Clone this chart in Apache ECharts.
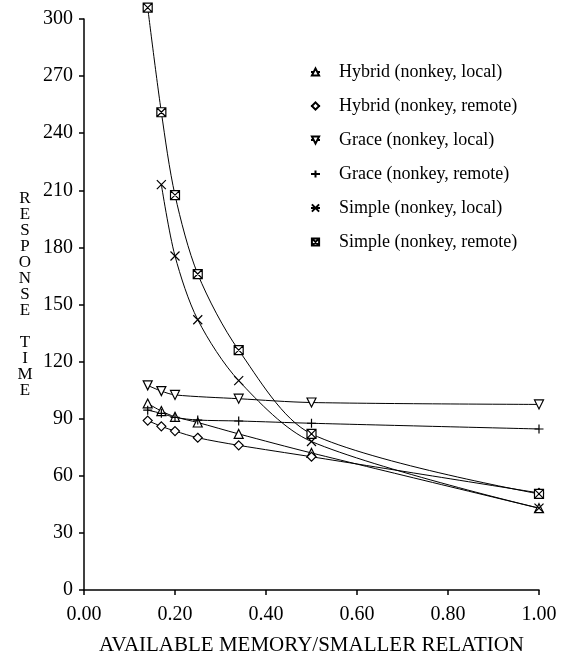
<!DOCTYPE html>
<html>
<head>
<meta charset="utf-8">
<script src="https://cdn.jsdelivr.net/npm/echarts@6/dist/echarts.min.js"></script>
<style>
html,body{margin:0;padding:0;background:#fff;}
#chart{width:569px;height:659px;}
</style>
</head>
<body>
<div id="chart"></div>
<script>
const memRatio = [0.14, 0.17, 0.2, 0.25, 0.34, 0.5, 1.0];
const hybridLocal  = [98, 94, 91, 88, 82, 72, 43];
const hybridRemote = [89, 86, 83.5, 80, 76, 70, 51];
const graceLocal   = [107.5, 104.5, 102.5, null, 100.5, 98.5, 97.5];
const graceRemote  = [94.5, 92.8, 90.7, 89.3, 88.8, 87.6, 84.6];
const simpleLocal  = [null, 213, 175.5, 142, 110, 78, 43];
const simpleRemote = [306, 251, 207.5, 166, 126, 82, 50.5];
const seriesNames = ['Hybrid (nonkey, local)','Hybrid (nonkey, remote)','Grace (nonkey, local)','Grace (nonkey, remote)','Simple (nonkey, local)','Simple (nonkey, remote)'];
const yTitle = 'RESPONSE TIME';
const xTitle = 'AVAILABLE MEMORY/SMALLER RELATION';

const FONT = '"Liberation Serif", "Times New Roman", serif';
const symbols = [
  'triangle',
  'diamond',
  'path://M0,0 L10,0 L5,9 Z',
  'path://M5,0 L5,10 M0,5 L10,5',
  'path://M0,0 L10,10 M10,0 L0,10',
  'path://M0,0 L10,0 L10,10 L0,10 Z M0,0 L10,10 M10,0 L0,10'
];
const values = [hybridLocal, hybridRemote, graceLocal, graceRemote, simpleLocal, simpleRemote];

function pairs(vals){
  const out = [];
  vals.forEach((v,i)=>{ if(v!==null) out.push([memRatio[i], v]); });
  return out;
}

const series = seriesNames.map((name, k) => ({
  name: name,
  type: 'line',
  data: pairs(values[k]),
  symbol: symbols[k],
  symbolSize: 9,
  smooth: 0.3,
  clip: false,
  showAllSymbol: true,
  lineStyle: {color: '#000', width: 1},
  itemStyle: {color: (k===3||k===4) ? 'transparent' : '#fff', borderColor: '#000', borderWidth: 1.2},
  emphasis: {disabled: true},
  z: 2
}));

const chart = echarts.init(document.getElementById('chart'), null, {renderer: 'canvas'});
chart.setOption({
  animation: false,
  backgroundColor: '#fff',
  textStyle: {fontFamily: FONT},
  grid: {left: 84, right: 30, top: 19, bottom: 69, containLabel: false, outerBoundsMode: 'none'},
  title: {
    text: yTitle.split('').join('\n'),
    left: 20, top: 186,
    textAlign: 'center',
    textStyle: {fontFamily: FONT, fontSize: 17, fontWeight: 'normal', color: '#000', lineHeight: 16}
  },
  legend: {
    orient: 'vertical',
    left: 310, top: 62,
    padding: 0,
    itemWidth: 9, itemHeight: 9,
    itemGap: 14,
    textStyle: {fontFamily: FONT, fontSize: 18, color: '#000', lineHeight: 20, padding: [0,0,0,14]},
    data: seriesNames
  },
  xAxis: {
    type: 'value', min: 0, max: 1, interval: 0.2,
    name: xTitle, nameLocation: 'middle', nameGap: 45,
    nameTextStyle: {fontFamily: FONT, fontSize: 21, color: '#000'},
    axisLine: {onZero: false, lineStyle: {color: '#000', width: 1.5}},
    axisTick: {show: true, inside: false, length: 5, lineStyle: {color: '#000', width: 1.5}},
    axisLabel: {fontFamily: FONT, fontSize: 20, color: '#000', margin: 15, formatter: v => v.toFixed(2)},
    splitLine: {show: false}
  },
  yAxis: {
    type: 'value', min: 0, max: 300, interval: 30,
    axisLine: {show: true, lineStyle: {color: '#000', width: 1.5}},
    axisTick: {show: true, inside: false, length: 5, lineStyle: {color: '#000', width: 1.5}},
    axisLabel: {fontFamily: FONT, fontSize: 20, color: '#000', margin: 11},
    splitLine: {show: false}
  },
  series: series
});
</script>
</body>
</html>
